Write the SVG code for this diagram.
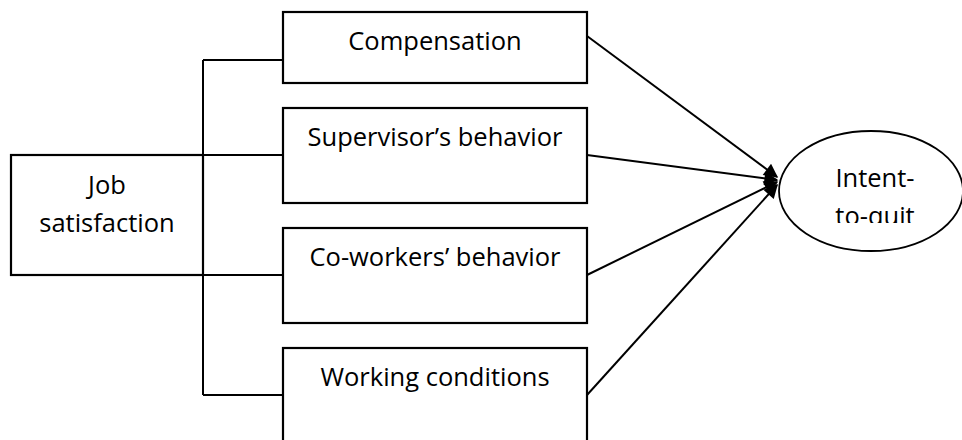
<svg xmlns="http://www.w3.org/2000/svg" width="962" height="440" viewBox="0 0 962 440">
<style>
.box{fill:#fff;stroke:#000;stroke-width:2.2}
.lbl{font-family:"Open Sans","Liberation Sans",sans-serif;font-size:25.5px;fill:#000;text-anchor:middle}
.con{fill:none;stroke:#000;stroke-width:2}
</style>
<defs>
<marker id="ah" viewBox="0 0 10 10" refX="9" refY="5" markerWidth="8" markerHeight="7" markerUnits="strokeWidth" orient="auto">
<path d="M0,0 L10,5 L0,10 z" fill="#000"/>
</marker>
<clipPath id="ovclip"><rect x="760" y="120" width="202" height="103"/></clipPath>
</defs>
<rect width="962" height="440" fill="#fff"/>
<g id="connectors">
<path class="con" d="M203,60 V395"/>
<path class="con" d="M203,60 H283"/>
<path class="con" d="M203,155 H283"/>
<path class="con" d="M203,275 H283"/>
<path class="con" d="M203,395 H283"/>
<line class="con" x1="587" y1="36" x2="777" y2="177" marker-end="url(#ah)"/>
<line class="con" x1="587" y1="155" x2="777" y2="180" marker-end="url(#ah)"/>
<line class="con" x1="587" y1="275" x2="777" y2="182" marker-end="url(#ah)"/>
<line class="con" x1="587" y1="395" x2="777" y2="185" marker-end="url(#ah)"/>
</g>
<g id="job">
<rect class="box" x="11" y="155" width="192" height="120" style="fill:none"/>
<text class="lbl" x="107" y="194">Job</text>
<text class="lbl" x="107" y="232">satisfaction</text>
</g>
<g id="compensation">
<rect class="box" x="283" y="12" width="304" height="71"/>
<text class="lbl" x="435" y="50">Compensation</text>
</g>
<g id="supervisor">
<rect class="box" x="283" y="108" width="304" height="95"/>
<text class="lbl" x="435" y="146">Supervisor’s behavior</text>
</g>
<g id="coworkers">
<rect class="box" x="283" y="228" width="304" height="95"/>
<text class="lbl" x="435" y="266">Co-workers’ behavior</text>
</g>
<g id="working">
<rect class="box" x="283" y="348" width="304" height="110"/>
<text class="lbl" x="435" y="386">Working conditions</text>
</g>
<g id="intent">
<ellipse cx="871" cy="191" rx="92" ry="60" fill="#fff" stroke="#000" stroke-width="1.8"/>
<text class="lbl" x="875" y="187">Intent-</text>
<text class="lbl" x="875" y="225" clip-path="url(#ovclip)">to-quit</text>
</g>
</svg>
